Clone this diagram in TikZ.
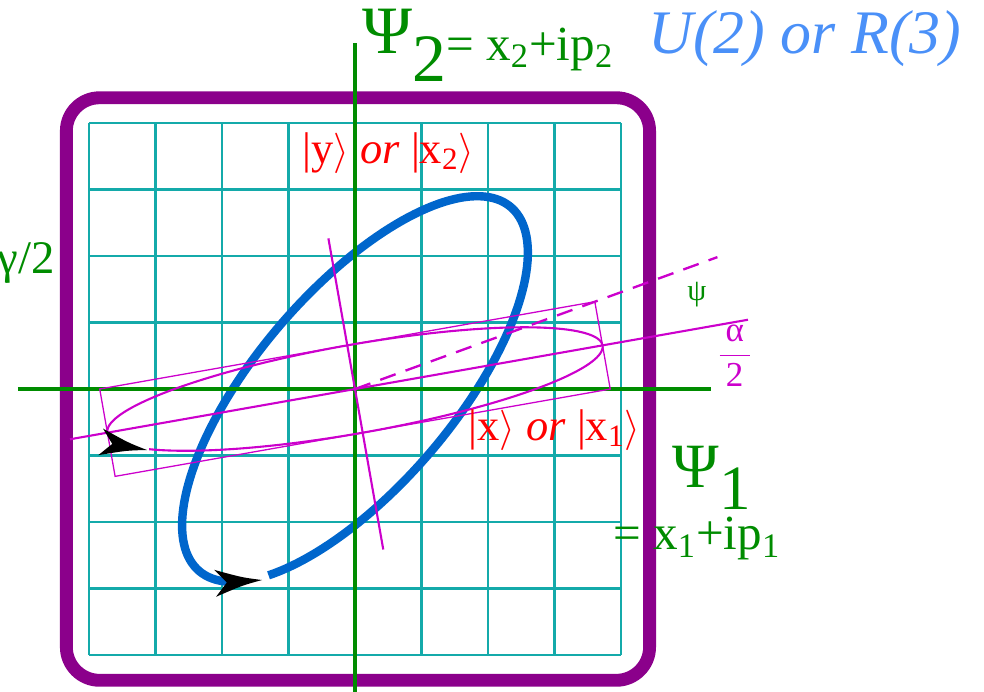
\documentclass[tikz,border=0pt]{standalone}
\usepackage{fontspec}
\setmainfont{Liberation Serif}[ItalicFont={Liberation Serif Italic}]
\definecolor{axgreen}{RGB}{0,140,0}
\definecolor{framepurple}{RGB}{139,0,139}
\definecolor{gridteal}{RGB}{20,170,170}
\definecolor{ellblue}{RGB}{0,102,204}
\definecolor{polmag}{RGB}{204,0,204}
\definecolor{labred}{RGB}{255,0,0}
\definecolor{lightblue}{RGB}{74,144,248}
\begin{document}
\begin{tikzpicture}[
  gridline/.style={draw=gridteal, line width=1.1pt},
  frame/.style={draw=framepurple, line width=5.5pt, rounded corners=0.5cm},
  axisline/.style={draw=axgreen, line width=2.1pt},
  blueell/.style={draw=ellblue, line width=3.6pt},
  magline/.style={draw=polmag, line width=0.9pt},
  magthin/.style={draw=polmag, line width=0.55pt},
  magdash/.style={draw=polmag, line width=1pt, dash pattern=on 7pt off 4.5pt},
  lab/.style={inner sep=0pt},
  arrowhd/.pic={\fill[black] (0,0) .. controls (-0.3,0.06) .. (-0.707,0.203) -- (-0.53,0) -- (-0.707,-0.203) .. controls (-0.3,-0.06) .. (0,0) -- cycle;}
]
\useasboundingbox (-5.338,-4.541) rectangle (9.459,5.850);
% grid
\draw[gridline] (-4,-4) grid (4,4);
% frame
\draw[frame] (-4.34,-4.38) rectangle (4.43,4.38);
% blue polarization ellipse
\draw[blueell] plot[domain=240:583, samples=160] ({2.6*cos(\x)},{2.9*cos(\x-45)});
% axes
\coordinate (ytop) at (0,5.2);
\coordinate (ybot) at (0,-4.6);
\coordinate (xleft) at (-5.07,0);
\coordinate (xright) at (5.35,0);
\draw[axisline] (ybot) -- (ytop);
\draw[axisline] (xleft) -- (xright);
% magenta ellipse, its box and axes
\begin{scope}[rotate=10]
  \coordinate (o) at (0,0);
  \coordinate (majl) at (-4.35,0);
  \coordinate (majr) at (6.0,0);
  \coordinate (minb) at (0,-2.45);
  \coordinate (mint) at (0,2.3);
  \draw[magthin] (-3.78,-0.667) rectangle (3.78,0.667);
  \draw[magline] (majl) -- (majr);
  \draw[magline] (minb) -- (mint);
  \draw[magline] plot[domain=212:555, samples=160] ({3.78*cos(\x)},{0.667*sin(\x)});
\end{scope}
\coordinate (psiend) at (20:5.8);
\draw[magdash] (o) -- (psiend);
% arrowheads
\pic[rotate=4] at (-1.398,-2.872) {arrowhd};
\pic[rotate=-10] at (-3.128,-0.917) {arrowhd};
% labels
\node[lab, anchor=base west, text=axgreen] (psi2) at (0.105,5.053)
  {\fontsize{29}{32}\selectfont Ψ\raisebox{-12pt}{2}\fontsize{21}{24}\selectfont\raisebox{-3pt}{= x\textsubscript{2}+ip\textsubscript{2}}};
\node[lab, anchor=base west, text=lightblue, font=\fontsize{26.5}{30}\selectfont\itshape] (grp) at (4.406,5.053) {U(2) or R(3)};
\node[lab, anchor=base west, text=labred, font=\fontsize{19}{22}\selectfont] (ylab) at (-0.797,3.398)
  {|y$\rangle$ \textit{or} |x\textsubscript{2}$\rangle$};
\node[lab, anchor=base west, text=labred, font=\fontsize{19}{22}\selectfont] (xlab) at (1.699,-0.767)
  {|x$\rangle$ \textit{or} |x\textsubscript{1}$\rangle$};
\node[lab, anchor=base west, text=axgreen] (psi1) at (4.767,-1.474)
  {\fontsize{27}{30}\selectfont Ψ\raisebox{-9.8pt}{1}};
\node[lab, anchor=base west, text=axgreen, font=\fontsize{21}{24}\selectfont] (psi1eq) at (3.88,-2.42)
  {= x\textsubscript{1}+ip\textsubscript{1}};
\node[lab, anchor=base, text=axgreen, font=\fontsize{13}{15}\selectfont] (psilab) at (5.14,1.33) {ψ};
\node[lab, text=polmag, font=\fontsize{15}{18}\selectfont] (alab) at (5.71,0.50) {$\displaystyle\frac{\mbox{\,α\,}}{\mbox{2}}$};
\node[lab, anchor=base east, text=axgreen, font=\fontsize{20}{24}\selectfont] (glab) at (-4.511,1.744) {γ/2};
\end{tikzpicture}
\end{document}
